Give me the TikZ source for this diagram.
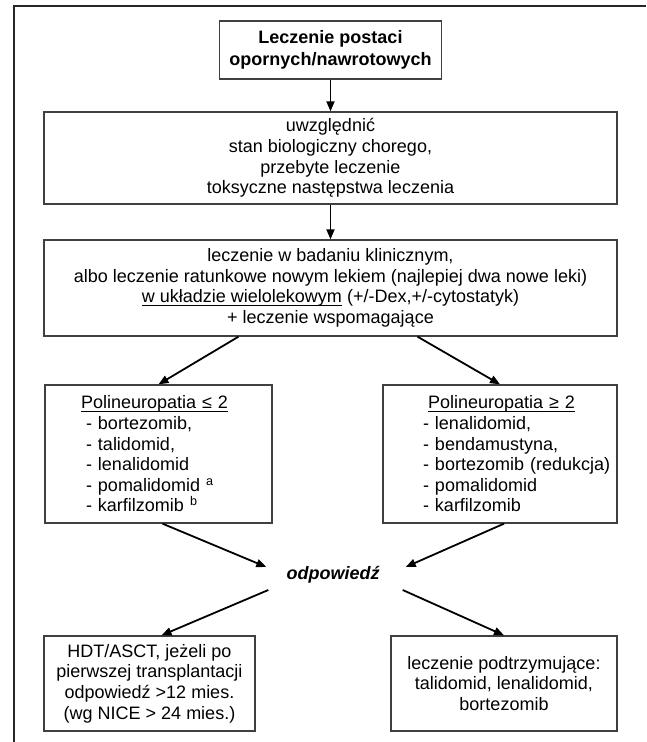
\documentclass[tikz,border=0pt]{standalone}
\usepackage{fontspec}
\setmainfont{Liberation Sans}
\usetikzlibrary{arrows.meta}
\newcommand{\undr}[1]{\sbox0{#1}\rlap{\rule[-3.5pt]{\wd0}{1pt}}\usebox0}

\begin{document}
\begin{tikzpicture}[x=1pt,y=-1pt,
    box/.style={draw=black!75, line width=1.3pt, align=center, inner sep=0pt},
    listbox/.style={box, align=left}]
\useasboundingbox (0,0) rectangle (646,742);
\draw[line width=2pt, black!85] (14,742) -- (14,6) -- (646,6);

\begin{scope}[every node/.style={font=\fontsize{18}{20.6}\selectfont}]
    \node[box, font=\fontsize{18}{22}\selectfont\bfseries, minimum width=222pt, minimum height=58pt] (top) at (330.5,50) {Leczenie postaci\\opornych/nawrotowych};
    \node[box, minimum width=573pt, minimum height=92pt] (check) at (330.5,158) {uwzględnić\\stan biologiczny chorego,\\przebyte leczenie\\toksyczne następstwa leczenia};
    \node[box, minimum width=573pt, minimum height=96pt] (therapy) at (330.5,288) {leczenie w badaniu klinicznym,\\albo leczenie ratunkowe nowym lekiem (najlepiej dwa nowe leki)\\\undr{w układzie wielolekowym} (+/-Dex,+/-cytostatyk)\\+ leczenie wspomagające};
    \node[listbox, minimum width=227pt, minimum height=138pt, text width=155pt] (polyL) at (158.5,454) {\undr{Polineuropatia ≤ 2}\\\hspace*{5pt}- bortezomib,\\\hspace*{5pt}- talidomid,\\\hspace*{5pt}- lenalidomid\\\hspace*{5pt}- pomalidomid \textsuperscript{a}\\\hspace*{5pt}- karfilzomib \textsuperscript{b}};
    \node[listbox, minimum width=234pt, minimum height=138pt, text width=154pt] (polyR) at (500,454) {\hspace*{5pt}\undr{Polineuropatia ≥ 2}\\- lenalidomid,\\- bendamustyna,\\\mbox{- bortezomib (redukcja)}\\- pomalidomid\\- karfilzomib};
    \node[font=\fontsize{18}{20.6}\selectfont\bfseries\itshape, inner sep=0pt, minimum width=92pt] (odp) at (333,575) {odpowiedź};
    \node[box, minimum width=211pt, minimum height=95pt] (hdt) at (149.5,683.5) {HDT/ASCT, jeżeli po\\pierwszej transplantacji\\odpowiedź >12 mies.\\(wg NICE > 24 mies.)};
    \node[box, minimum width=226pt, minimum height=95pt] (maint) at (504,683.5) {leczenie podtrzymujące:\\talidomid, lenalidomid,\\bortezomib};
\end{scope}

\begin{scope}[>={Triangle[black,length=10pt,width=8pt]},
              every edge/.style={draw=black, line width=1.8pt}]
    \path [->] (top) edge (check);
    \path [->] (check) edge (therapy);
    \path [->] ([xshift=-92pt]therapy.south) edge (polyL.north);
    \path [->] ([xshift=87pt]therapy.south) edge (polyR.north);
    \path [->] ([xshift=4pt]polyL.south) edge ([xshift=-20pt,yshift=8pt]odp.west);
    \path [->] ([xshift=4pt]polyR.south) edge ([xshift=26pt,yshift=8pt]odp.east);
    \path [->] ([xshift=-18pt,yshift=-15pt]odp.west) edge ([xshift=12pt]hdt.north);
    \path [->] ([xshift=23pt,yshift=-15pt]odp.east) edge (maint.north);
\end{scope}
\end{tikzpicture}
\end{document}
